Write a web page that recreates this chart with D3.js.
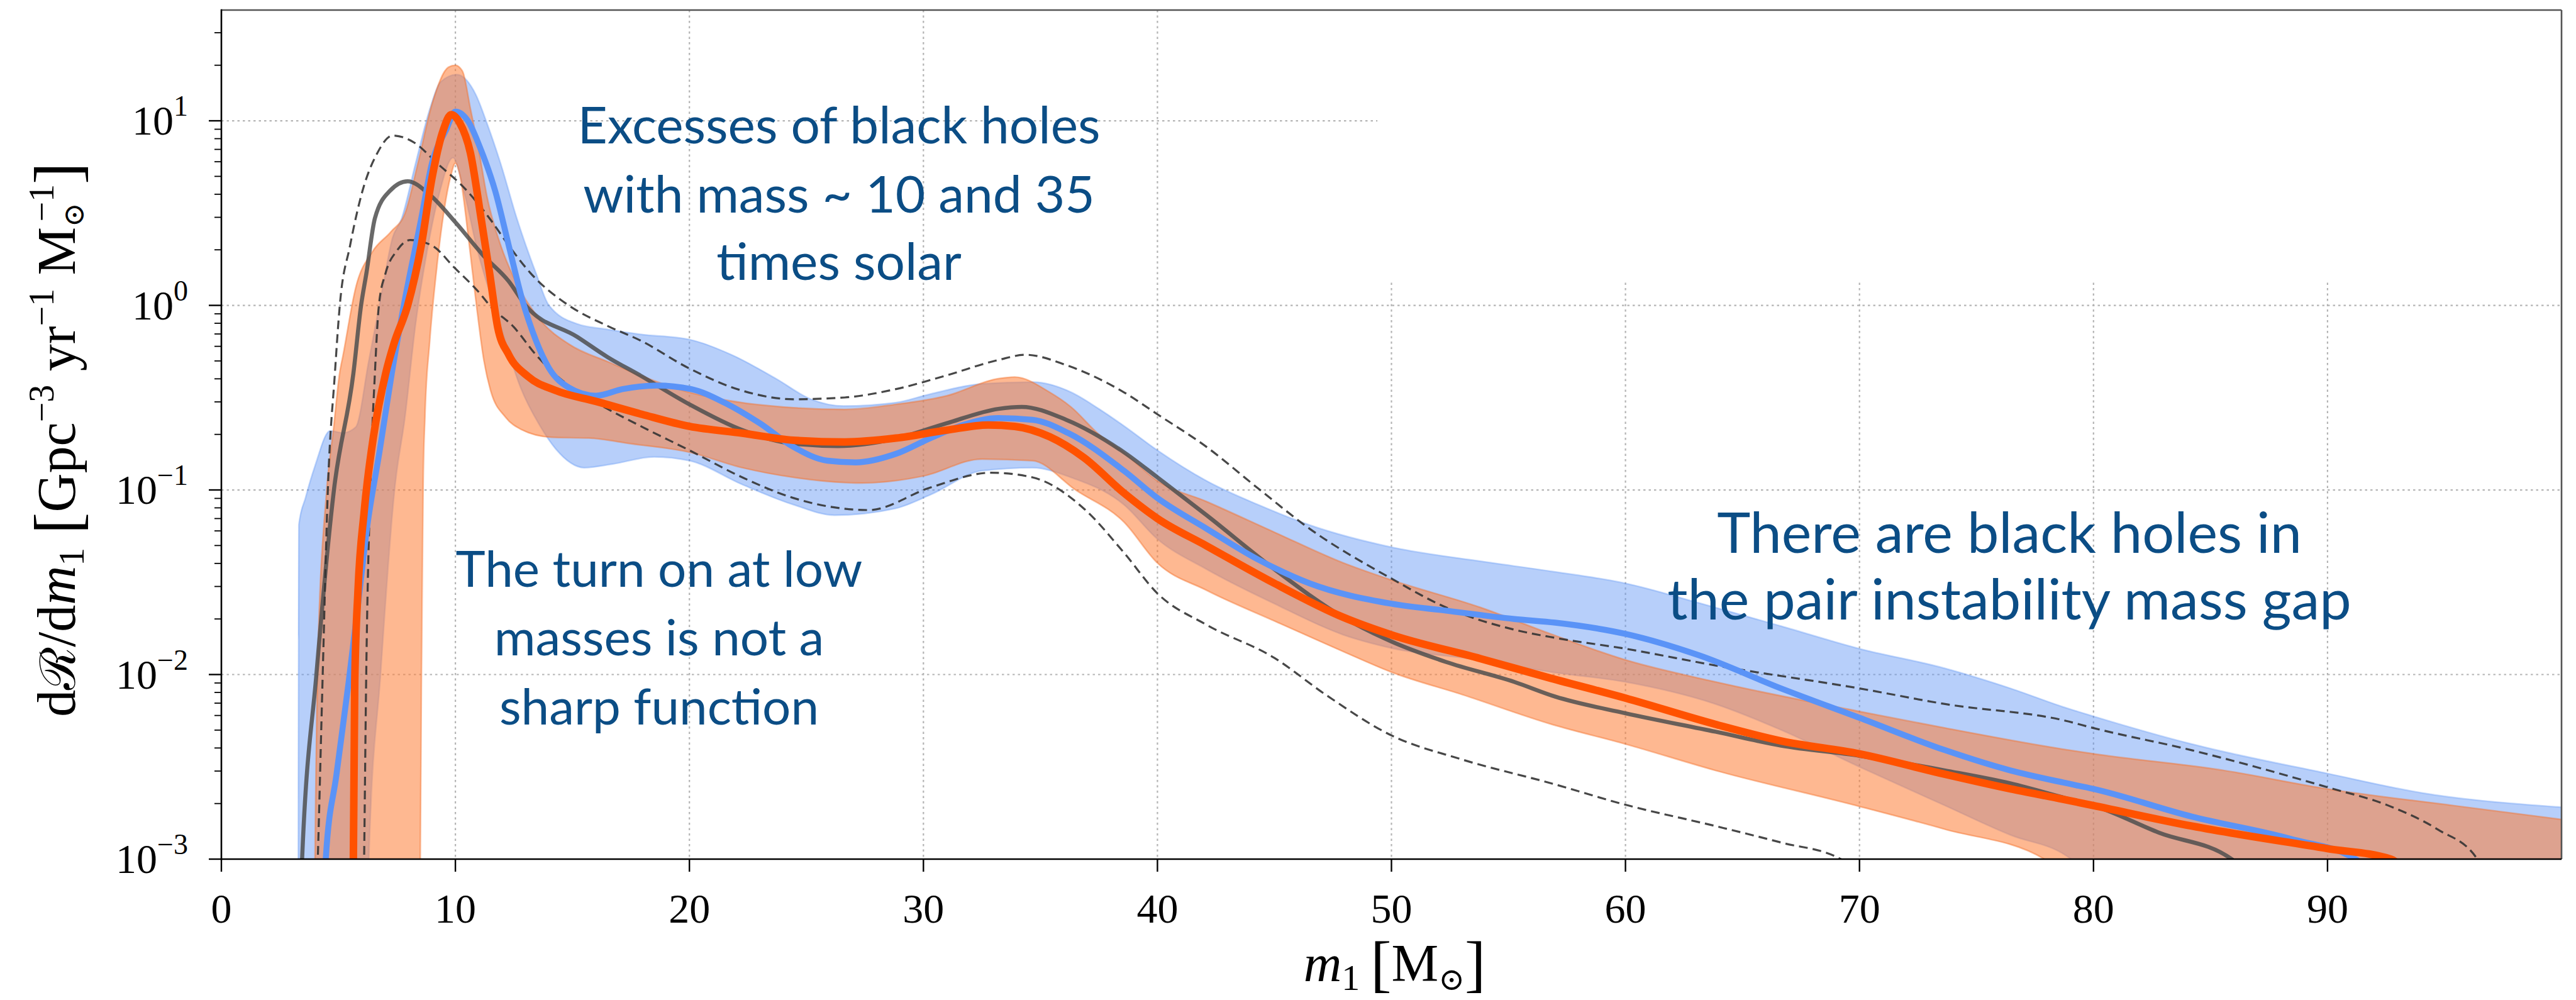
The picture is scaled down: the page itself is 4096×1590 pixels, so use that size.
<!DOCTYPE html>
<html>
<head>
<meta charset="utf-8">
<script src="https://cdn.jsdelivr.net/npm/d3@7"></script>
<style>
  html, body { margin: 0; padding: 0; background: #fff; }
  svg { display: block; }
</style>
</head>
<body>
<svg id="chart" width="4096" height="1590"></svg>
<script>
// ---------------------------------------------------------------
// Primary-mass distribution dR/dm1 (rate per Gpc^3 per yr per Msun)
// ---------------------------------------------------------------

// Axis ticks
const massTicks = [0, 10, 20, 30, 40, 50, 60, 70, 80, 90];
const rateTicks = [1e-3, 1e-2, 1e-1, 1, 10];
const rateExponents = ["\u22123", "\u22122", "\u22121", "0", "1"];

// Grey solid median
const greyMidMass = [3.3, 3.45, 4.06, 4.81, 5.64, 5.97, 6.2, 6.56, 7.2, 7.96, 8.9, 10.0, 11.2, 12.28, 13.0, 15.2, 16.5, 17.9, 20, 22.26, 24.45, 26.35, 28.83, 31.0, 33.2, 34.2, 36.1, 38.57, 40, 42.1, 45, 47.95, 50, 52.33, 55.25, 57, 60, 63.85, 66.65, 70, 73.66, 76.46, 78.8, 80, 82.8, 85.9, 87.5];
const greyMidRate = [0.000316, 0.001, 0.01, 0.1, 0.427, 1.0, 1.5, 2.96, 4.17, 4.70, 3.98, 2.82, 1.86, 1.35, 1.0, 0.676, 0.525, 0.417, 0.291, 0.211, 0.178, 0.173, 0.190, 0.230, 0.275, 0.282, 0.240, 0.160, 0.117, 0.0730, 0.0372, 0.0204, 0.0151, 0.0117, 0.00912, 0.00759, 0.00617, 0.00490, 0.00412, 0.00363, 0.00302, 0.00257, 0.00214, 0.00195, 0.00139, 0.00100, 0.00063];

// Grey dashed upper bound
const greyHiMass = [4.0, 4.12, 4.33, 4.55, 4.85, 5.06, 5.5, 6.03, 6.67, 7.32, 8.19, 9.24, 10.5, 11.46, 12.28, 13.2, 14.84, 16.48, 17.9, 20, 22.26, 24.45, 26.64, 28.83, 31, 33.2, 34.37, 36.1, 38.57, 40, 42.1, 44.3, 46.5, 50, 52.33, 55.25, 57, 60, 63.85, 70, 73.66, 78.8, 80, 84.2, 90, 92.6, 94.7, 96.4, 97.2];
const greyHiRate = [0.000316, 0.001, 0.01, 0.1, 0.427, 1.0, 2.11, 4.17, 6.71, 8.32, 7.69, 5.86, 4.17, 2.96, 2.11, 1.50, 1.0, 0.776, 0.646, 0.455, 0.345, 0.310, 0.317, 0.352, 0.418, 0.506, 0.540, 0.475, 0.338, 0.257, 0.171, 0.102, 0.0617, 0.0331, 0.0231, 0.0175, 0.0158, 0.0138, 0.0112, 0.00841, 0.00692, 0.00562, 0.00513, 0.00389, 0.00245, 0.00195, 0.00145, 0.00100, 0.00063];

// Grey dashed lower bound
const greyLoMass = [6.05, 6.1, 6.19, 6.36, 6.56, 6.73, 7.02, 7.49, 8.07, 9.0, 9.94, 11.1, 11.46, 12.5, 13.44, 15.0, 16.5, 18.0, 20, 22.26, 24.45, 27.66, 30.29, 32.9, 34.66, 36.85, 38.57, 40, 42.1, 45, 47.2, 50, 53, 56.85, 60, 63.85, 66.65, 69.2, 70.2];
const greyLoRate = [0.000316, 0.001, 0.01, 0.1, 0.427, 1.0, 1.50, 1.97, 2.26, 2.11, 1.61, 1.14, 1.0, 0.762, 0.540, 0.355, 0.275, 0.219, 0.164, 0.117, 0.0904, 0.0778, 0.103, 0.124, 0.117, 0.0794, 0.0457, 0.0275, 0.0186, 0.0123, 0.00776, 0.00468, 0.00347, 0.00257, 0.00197, 0.00151, 0.00123, 0.00100, 0.00063];

// Blue credible band
const blueHiMass = [3.28, 3.31, 3.6, 4.0, 4.65, 5.2, 5.74, 6.3, 6.9, 7.3, 7.7, 8.3, 8.9, 9.36, 10.06, 10.88, 11.34, 11.93, 12.63, 13.44, 14.0, 15.2, 16.5, 17.9, 20, 21.8, 23.7, 25.2, 26.6, 28.8, 30.3, 32.5, 34.7, 36.3, 37.5, 38.6, 40, 42.1, 44.3, 46.5, 50, 53.8, 56.8, 60, 63.15, 66.65, 70, 73.66, 76.46, 78.7, 80, 84.2, 90, 94, 100];
const blueHiRate = [0.000316, 0.0646, 0.0912, 0.135, 0.209, 0.204, 0.219, 0.501, 1.26, 2.29, 2.95, 5.89, 11.5, 16.2, 17.8, 13.8, 9.77, 5.89, 2.95, 1.50, 1.0, 0.794, 0.741, 0.697, 0.653, 0.540, 0.401, 0.310, 0.285, 0.297, 0.331, 0.376, 0.384, 0.339, 0.275, 0.221, 0.164, 0.112, 0.0832, 0.0646, 0.0490, 0.0411, 0.0363, 0.0312, 0.0244, 0.0183, 0.0138, 0.0108, 0.00841, 0.00668, 0.00594, 0.00420, 0.00291, 0.00229, 0.00191];
const blueLoMass = [3.28, 6.25, 6.3, 6.8, 7.4, 7.85, 8.3, 8.8, 9.3, 9.9, 10.4, 10.9, 11.9, 12.8, 13.6, 14.3, 15.5, 16.7, 18.5, 20, 22.26, 24.45, 26.2, 28.8, 30.3, 32.5, 34.66, 36.3, 38.57, 40, 42.1, 45, 47.95, 50, 53.8, 56.85, 60, 63.85, 66.65, 70, 73.66, 76.46, 78.8, 80, 82, 100];
const blueLoRate = [0.000316, 0.000316, 0.001, 0.01, 0.1, 0.251, 0.794, 2.0, 3.98, 6.31, 3.98, 2.09, 0.794, 0.355, 0.224, 0.166, 0.132, 0.138, 0.151, 0.144, 0.107, 0.0832, 0.0730, 0.0794, 0.0942, 0.127, 0.132, 0.117, 0.0832, 0.0542, 0.0372, 0.0242, 0.0164, 0.0139, 0.0120, 0.0103, 0.00912, 0.00692, 0.00501, 0.00316, 0.00195, 0.00135, 0.00105, 0.00079, 0.000316, 0.000316];

// Orange credible band
const orangeHiMass = [3.95, 4.0, 4.1, 4.5, 4.8, 5.05, 5.2, 5.75, 6.45, 7.25, 7.85, 8.4, 9.0, 9.7, 10.0, 10.3, 10.65, 11.0, 11.35, 11.95, 12.5, 13.7, 14.85, 16.6, 17.9, 20, 22.26, 24.45, 26.64, 28.83, 31, 33.2, 33.9, 35.4, 36.3, 37.5, 38.6, 40, 42.1, 45, 47.95, 50, 53.8, 56.8, 60, 63.85, 70, 73.66, 78.7, 80, 85.6, 90, 95.4, 100];
const orangeHiRate = [0.000316, 0.001, 0.01, 0.1, 0.219, 0.427, 0.537, 1.26, 1.95, 2.51, 3.16, 5.89, 12.3, 19.5, 20.0, 18.6, 11.5, 6.92, 3.89, 2.09, 1.41, 0.813, 0.617, 0.490, 0.417, 0.338, 0.297, 0.279, 0.273, 0.291, 0.324, 0.401, 0.409, 0.338, 0.282, 0.200, 0.158, 0.112, 0.0865, 0.0590, 0.0402, 0.0325, 0.0231, 0.0166, 0.0120, 0.00912, 0.00631, 0.00513, 0.00394, 0.00372, 0.00302, 0.00240, 0.00195, 0.00164];
const orangeLoMass = [3.95, 8.45, 8.5, 8.55, 8.62, 8.7, 8.9, 9.2, 9.5, 9.8, 10.0, 10.2, 10.6, 10.9, 11.22, 11.5, 12.14, 12.8, 14.1, 15.7, 17.5, 20, 22.26, 24.45, 27.37, 30, 32.5, 34.66, 36.5, 38.57, 40, 42.1, 45, 47.95, 50, 53.06, 56.85, 60, 63.85, 70, 73.66, 77.9, 79, 80, 100];
const orangeLoRate = [0.000316, 0.000316, 0.001, 0.01, 0.1, 0.251, 0.631, 1.58, 3.16, 5.01, 5.89, 5.01, 2.09, 1.0, 0.501, 0.347, 0.248, 0.213, 0.193, 0.191, 0.178, 0.160, 0.132, 0.117, 0.109, 0.119, 0.147, 0.144, 0.100, 0.0670, 0.0402, 0.0286, 0.0195, 0.0133, 0.0103, 0.00776, 0.00537, 0.00420, 0.00302, 0.00193, 0.00145, 0.00100, 0.00063, 0.000316, 0.000316];

// Blue median
const blueMidMass = [4.3, 4.46, 4.92, 5.44, 5.84, 6.23, 6.76, 7.28, 7.84, 8.54, 9.0, 9.6, 10.0, 10.53, 11.1, 11.7, 12.28, 12.86, 13.44, 14.0, 14.84, 16.0, 17.15, 18.6, 20.07, 21.5, 23.0, 24.45, 25.9, 27.1, 28.83, 30.3, 31.7, 33.2, 34.66, 36.2, 38.57, 40, 42.1, 44.3, 46.5, 50, 52.33, 55.25, 57, 60, 63.15, 66.65, 70, 73.66, 76.46, 78.7, 80, 84.2, 88.4, 91.2, 92.5];
const blueMidRate = [0.000316, 0.001, 0.00288, 0.00912, 0.0240, 0.0631, 0.162, 0.427, 1.07, 2.95, 5.89, 8.91, 11.2, 10.0, 6.92, 4.17, 2.11, 1.07, 0.646, 0.457, 0.359, 0.324, 0.352, 0.368, 0.352, 0.297, 0.230, 0.171, 0.144, 0.141, 0.157, 0.191, 0.225, 0.245, 0.240, 0.203, 0.127, 0.0904, 0.0617, 0.0420, 0.0312, 0.0242, 0.0222, 0.0200, 0.0191, 0.0166, 0.0127, 0.00841, 0.00583, 0.00389, 0.00302, 0.00260, 0.00240, 0.00170, 0.00129, 0.00100, 0.00063];

// Orange median
const orangeMidMass = [5.62, 5.64, 5.7, 5.84, 6.1, 6.5, 7.02, 7.37, 7.96, 8.54, 9.0, 9.47, 9.82, 10.18, 10.64, 11.1, 11.46, 11.81, 12.28, 13.1, 14.26, 16.0, 17.97, 20, 22.26, 24.45, 26.64, 28.83, 31, 32.77, 33.9, 35.4, 36.85, 38.57, 40, 42.1, 45, 47.95, 50, 53.8, 56.8, 60, 63.85, 66.65, 70, 73.66, 76.46, 78.7, 80, 84.2, 90, 92.7, 94];
const orangeMidRate = [0.000316, 0.001, 0.00912, 0.0288, 0.0759, 0.195, 0.427, 0.617, 1.0, 2.11, 4.90, 8.81, 10.8, 9.77, 6.71, 2.95, 1.50, 0.759, 0.540, 0.412, 0.347, 0.302, 0.257, 0.221, 0.203, 0.186, 0.182, 0.191, 0.211, 0.225, 0.221, 0.194, 0.150, 0.0962, 0.0700, 0.0498, 0.0312, 0.0204, 0.0164, 0.0122, 0.00955, 0.00745, 0.00537, 0.00437, 0.00372, 0.00288, 0.00240, 0.00211, 0.00195, 0.00151, 0.00114, 0.00100, 0.00063];

// Annotation text
const noteExcess = ["Excesses of black holes", "with mass ~ 10 and 35", "times solar"];
const noteTurnOn = ["The turn on at low", "masses is not a", "sharp function"];
const notePairGap = ["There are black holes in", "the pair instability mass gap"];

// ---------------------------------------------------------------
// Layout
// ---------------------------------------------------------------
const plot = { left: 352, right: 4073, top: 16, bottom: 1366 };
const massDomain = [0, 100];
const rateDomain = [1e-3, 39.8];
// blank panel in the upper right (grid hidden there)
const blankPanel = { massFrom: 49.4, rateFrom: 1.35 };

const x = d3.scaleLinear().domain(massDomain).range([plot.left, plot.right]);
const y = d3.scaleLog().domain(rateDomain).range([plot.bottom, plot.top]);

const svg = d3.select("#chart");
svg.append("rect").attr("width", 4096).attr("height", 1590).attr("fill", "#fff");

const defs = svg.append("defs");
defs.append("clipPath").attr("id", "plotClip")
  .append("rect")
  .attr("x", x(massDomain[0])).attr("y", y(rateDomain[1]))
  .attr("width", x(massDomain[1]) - x(massDomain[0]))
  .attr("height", y(rateDomain[0]) - y(rateDomain[1]));

// ---- grid ----
const gridColor = "#b4b4b4";
const grid = svg.append("g");
grid.selectAll("line.gv").data(massTicks.slice(1)).join("line")
  .attr("class", "gv")
  .attr("x1", d => x(d)).attr("x2", d => x(d))
  .attr("y1", y(rateDomain[1])).attr("y2", y(rateDomain[0]))
  .attr("stroke", gridColor).attr("stroke-width", 2.2).attr("stroke-dasharray", "3.5 5");
grid.selectAll("line.gh").data(rateTicks.slice(1)).join("line")
  .attr("class", "gh")
  .attr("x1", x(massDomain[0])).attr("x2", x(massDomain[1]))
  .attr("y1", d => y(d)).attr("y2", d => y(d))
  .attr("stroke", gridColor).attr("stroke-width", 2.2).attr("stroke-dasharray", "3.5 5");
svg.append("rect")
  .attr("x", x(blankPanel.massFrom)).attr("y", y(rateDomain[1]))
  .attr("width", x(massDomain[1]) - x(blankPanel.massFrom))
  .attr("height", y(blankPanel.rateFrom) - y(rateDomain[1]))
  .attr("fill", "#fff");

// ---- curves ----
const lineGen = d3.line()
  .x(d => x(d[0])).y(d => y(d[1]))
  .curve(d3.curveMonotoneX);

function bandPath(hiMass, hiRate, loMass, loRate) {
  const upper = d3.zip(hiMass, hiRate);
  const lower = d3.zip(loMass, loRate).reverse();
  return lineGen(upper) + "L" + lineGen(lower).slice(1) + "Z";
}

const marks = svg.append("g").attr("clip-path", "url(#plotClip)");

// blue band
marks.append("path")
  .attr("d", bandPath(blueHiMass, blueHiRate, blueLoMass, blueLoRate))
  .attr("fill", "rgb(95,148,244)").attr("fill-opacity", 0.45)
  .attr("stroke", "rgb(95,148,244)").attr("stroke-opacity", 0.35).attr("stroke-width", 2.5);

// orange band
marks.append("path")
  .attr("d", bandPath(orangeHiMass, orangeHiRate, orangeLoMass, orangeLoRate))
  .attr("fill", "rgb(253,125,55)").attr("fill-opacity", 0.55)
  .attr("stroke", "rgb(245,110,40)").attr("stroke-opacity", 0.45).attr("stroke-width", 2.5);

// grey median and its bounds
marks.append("path")
  .attr("d", lineGen(d3.zip(greyMidMass, greyMidRate)))
  .attr("fill", "none").attr("stroke", "#4f4f4f").attr("stroke-opacity", 0.85)
  .attr("stroke-width", 6.5);
[[greyHiMass, greyHiRate], [greyLoMass, greyLoRate]].forEach(([m, r]) => {
  marks.append("path")
    .attr("d", lineGen(d3.zip(m, r)))
    .attr("fill", "none").attr("stroke", "#333").attr("stroke-opacity", 0.9)
    .attr("stroke-width", 3.2).attr("stroke-dasharray", "14 8");
});

// blue median
marks.append("path")
  .attr("d", lineGen(d3.zip(blueMidMass, blueMidRate)))
  .attr("fill", "none").attr("stroke", "#5a93f7").attr("stroke-width", 9.5)
  .attr("stroke-linejoin", "round");

// orange median
marks.append("path")
  .attr("d", lineGen(d3.zip(orangeMidMass, orangeMidRate)))
  .attr("fill", "none").attr("stroke", "#ff5200").attr("stroke-width", 12)
  .attr("stroke-linejoin", "round");

// ---- spines ----
const spines = svg.append("g");
spines.append("line").attr("x1", x(0)).attr("x2", x(100)).attr("y1", y(rateDomain[1])).attr("y2", y(rateDomain[1]))
  .attr("stroke", "#555").attr("stroke-width", 2.6);
spines.append("line").attr("x1", x(100)).attr("x2", x(100)).attr("y1", y(rateDomain[1])).attr("y2", y(rateDomain[0]))
  .attr("stroke", "#555").attr("stroke-width", 2.6);
spines.append("line").attr("x1", x(0)).attr("x2", x(0)).attr("y1", y(rateDomain[1]) - 1.3).attr("y2", y(rateDomain[0]) + 1.3)
  .attr("stroke", "#000").attr("stroke-width", 2.6);
spines.append("line").attr("x1", x(0) - 1.3).attr("x2", x(100)).attr("y1", y(rateDomain[0])).attr("y2", y(rateDomain[0]))
  .attr("stroke", "#000").attr("stroke-width", 2.6);

// ---- ticks ----
const tickFont = "'Liberation Serif', 'DejaVu Serif', serif";
const ticks = svg.append("g");
ticks.selectAll("line.xt").data(massTicks).join("line")
  .attr("x1", d => x(d)).attr("x2", d => x(d))
  .attr("y1", y(rateDomain[0])).attr("y2", y(rateDomain[0]) + 20)
  .attr("stroke", "#000").attr("stroke-width", 2.4);
ticks.selectAll("text.xl").data(massTicks).join("text")
  .attr("x", d => x(d)).attr("y", y(rateDomain[0]) + 101)
  .attr("text-anchor", "middle")
  .attr("font-family", tickFont).attr("font-size", 66).attr("fill", "#000")
  .text(d => d3.format("d")(d));

const minorRates = y.ticks().filter(v => !rateTicks.includes(v) && v <= rateDomain[1]);
ticks.selectAll("line.ym").data(minorRates).join("line")
  .attr("x1", x(0) - 11).attr("x2", x(0))
  .attr("y1", d => y(d)).attr("y2", d => y(d))
  .attr("stroke", "#000").attr("stroke-width", 1.8);
ticks.selectAll("line.yt").data(rateTicks).join("line")
  .attr("x1", x(0) - 20).attr("x2", x(0))
  .attr("y1", d => y(d)).attr("y2", d => y(d))
  .attr("stroke", "#000").attr("stroke-width", 2.4);

const yLabels = ticks.selectAll("text.yl").data(rateTicks).join("text")
  .attr("x", x(0) - 53).attr("y", d => y(d) + 22)
  .attr("text-anchor", "end")
  .attr("font-family", tickFont).attr("font-size", 66).attr("fill", "#000");
yLabels.append("tspan").text("10");
yLabels.append("tspan").attr("font-size", 46).attr("dy", -30)
  .text((d, i) => rateExponents[i]);

// ---- axis titles ----
const xTitle = svg.append("text")
  .attr("x", (x(0) + x(100)) / 2 + 5).attr("y", 1560)
  .attr("text-anchor", "middle")
  .attr("font-family", tickFont).attr("font-size", 84).attr("fill", "#000");
xTitle.append("tspan").attr("font-style", "italic").text("m");
xTitle.append("tspan").attr("font-size", 58).attr("dy", 14).text("1");
xTitle.append("tspan").attr("dy", -14).text("\u2009");
xTitle.append("tspan").attr("font-size", 100).attr("dy", 6).text("[");
xTitle.append("tspan").attr("dy", -6).text("M");
xTitle.append("tspan").attr("font-size", 50).attr("dy", 14).attr("font-family", "'DejaVu Serif', serif").text("\u2299");
xTitle.append("tspan").attr("font-size", 100).attr("dy", -8).text("]");

const yTitle = svg.append("text")
  .attr("transform", "translate(119," + ((plot.top + plot.bottom) / 2 + 8) + ") rotate(-90)")
  .attr("text-anchor", "middle")
  .attr("font-family", tickFont).attr("font-size", 86).attr("fill", "#000");
yTitle.append("tspan").text("d");
yTitle.append("tspan").attr("font-family", "'DejaVu Serif', serif").attr("font-size", 78).text("\u211B");
yTitle.append("tspan").text("/d");
yTitle.append("tspan").attr("font-style", "italic").text("m");
yTitle.append("tspan").attr("font-size", 58).attr("dy", 14).text("1");
yTitle.append("tspan").attr("dy", -14).text(" ");
yTitle.append("tspan").attr("font-size", 104).attr("dy", 7).text("[");
yTitle.append("tspan").attr("dy", -7).text("Gpc");
yTitle.append("tspan").attr("font-size", 56).attr("dy", -34).text("\u22123");
yTitle.append("tspan").attr("dy", 34).text(" yr");
yTitle.append("tspan").attr("font-size", 56).attr("dy", -34).text("\u22121");
yTitle.append("tspan").attr("dy", 34).text(" M");
yTitle.append("tspan").attr("font-size", 46).attr("dy", 14).attr("font-family", "'DejaVu Serif', serif").text("\u2299");
yTitle.append("tspan").attr("font-size", 56).attr("dx", -30).attr("dy", -48).text("\u22121");
yTitle.append("tspan").attr("font-size", 104).attr("dy", 41).text("]");

// ---- annotations ----
const noteStyle = { font: "Lato, 'Open Sans', sans-serif", color: "#0b4d85" };
function drawNote(lines, cx, baselines, size) {
  svg.append("g").selectAll("text").data(lines).join("text")
    .attr("x", cx).attr("y", (d, i) => baselines[i])
    .attr("text-anchor", "middle")
    .attr("font-family", noteStyle.font).attr("font-size", size)
    .attr("fill", noteStyle.color)
    .text(d => d);
}
drawNote(noteExcess, 1334, [228, 338, 445], 82);
drawNote(noteTurnOn, 1048, [933, 1042, 1152], 80);
drawNote(notePairGap, 3195, [879, 985], 90);
</script>
</body>
</html>
